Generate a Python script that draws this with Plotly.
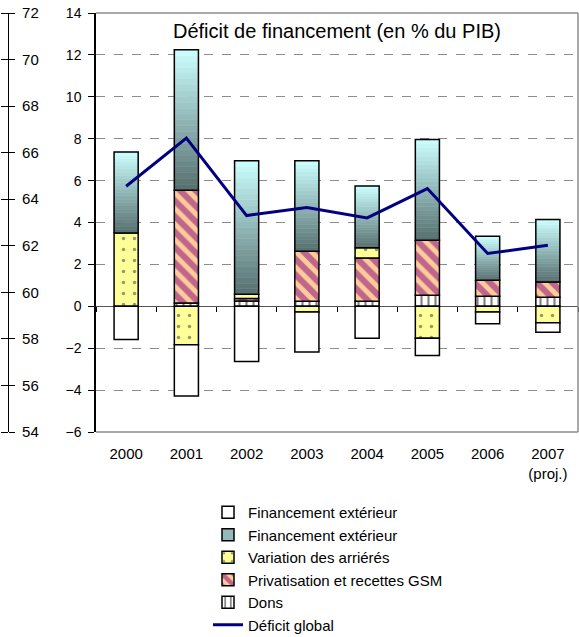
import plotly.graph_objects as go

# ---------------- data ----------------
years = ["2000", "2001", "2002", "2003", "2004", "2005", "2006", "2007"]
year_labels = ["2000", "2001", "2002", "2003", "2004", "2005", "2006", "2007<br>(proj.)"]

dons = [None, 0.16, 0.25, 0.24, 0.24, 0.53, 0.48, 0.43]
privatisation = [None, 5.38, 0.12, 2.39, 2.07, 2.62, 0.76, 0.73]
arrieres = [3.50, -1.83, 0.20, -0.27, 0.48, -1.53, -0.27, -0.79]
fin_ext_pos = [3.87, 6.71, 6.38, 4.32, 2.95, 4.81, 2.10, 2.98]
fin_ext_neg = [-1.58, -2.45, -2.64, -1.91, -1.53, -0.82, -0.56, -0.45]
deficit_global = [5.73, 8.03, 4.33, 4.72, 4.22, 5.62, 2.52, 2.91]

left_axis_range = [54, 72]

FONT = "Liberation Sans, Arial, sans-serif"
EDGE = dict(color="black", width=1.5)

fig = go.Figure()

# Dons (vertical lines)
fig.add_trace(go.Bar(
    x=years, y=dons, name="Dons", legendrank=5,
    marker=dict(color="white", line=EDGE,
                pattern=dict(shape="|", fgcolor="black", bgcolor="white",
                             size=7, solidity=0.3)),
))
# Privatisation (diagonal stripes)
fig.add_trace(go.Bar(
    x=years, y=privatisation, name="Privatisation et recettes GSM", legendrank=4,
    marker=dict(color="#ffcc99", line=EDGE,
                pattern=dict(shape="\\", fgcolor="#800080", bgcolor="#ffcc99",
                             size=11, solidity=0.55)),
))
# Variation des arriérés (dots)
fig.add_trace(go.Bar(
    x=years, y=arrieres, name="Variation des arriérés", legendrank=3,
    marker=dict(color="#ffff99", line=EDGE,
                pattern=dict(shape=".", fgcolor="#333333", bgcolor="#ffff99",
                             size=11, solidity=0.08)),
))

# Financement extérieur (positive) – gradient drawn as thin stacked slices
N = 24
c0 = (0x56, 0x6e, 0x6e)   # bottom
c1 = (0xcc, 0xff, 0xff)   # top
for i in range(N):
    t = (i + 0.5) / N
    col = "rgb(%d,%d,%d)" % tuple(round(a + (b - a) * t) for a, b in zip(c0, c1))
    fig.add_trace(go.Bar(
        x=years, y=[v / N for v in fin_ext_pos], showlegend=False, hoverinfo="skip",
        marker=dict(color=col, line=dict(color=col, width=0.6)),
    ))

# Financement extérieur (negative, white)
fig.add_trace(go.Bar(
    x=years, y=fin_ext_neg, name="Financement extérieur", legendrank=1,
    marker=dict(color="white", line=EDGE),
))

# outline of the gradient segment, on an overlay axis (no stacking)
pos_base = [(d or 0) + (p or 0) + max(a, 0) for d, p, a in zip(dons, privatisation, arrieres)]
fig.add_trace(go.Bar(
    x=years, y=fin_ext_pos, base=pos_base, xaxis="x2", showlegend=False,
    hoverinfo="skip", marker=dict(color="rgba(0,0,0,0)", line=EDGE),
))
# legend entry for gradient segment
fig.add_trace(go.Bar(
    x=years, y=[None] * len(years), xaxis="x2", name="Financement extérieur",
    legendrank=2, marker=dict(color="#93baba", line=EDGE),
))
# Déficit global line
fig.add_trace(go.Scatter(
    x=years, y=deficit_global, xaxis="x2", mode="lines", name="Déficit global",
    legendrank=6, line=dict(color="#000080", width=3),
))
# dummy traces for cropped left axis
fig.add_trace(go.Scatter(x=[], y=[], yaxis="y3", showlegend=False))
fig.add_trace(go.Scatter(x=[], y=[], yaxis="y4", showlegend=False))

W, H = 579, 637
ML, MR, MT, MB = 0, 1, 13, 637 - 432
pw = W - ML - MR
ph = H - MT - MB
x0 = 96 / pw

fig.update_layout(
    width=W, height=H,
    margin=dict(l=ML, r=MR, t=MT, b=MB, autoexpand=False),
    paper_bgcolor="white", plot_bgcolor="white",
    barmode="relative", bargap=0.6,
    font=dict(family=FONT, size=14, color="black"),
    showlegend=True,
    legend=dict(x=(249 - 41) / pw, xanchor="left",
                y=-(496 - 432) / ph, yanchor="top",
                traceorder="normal", font=dict(size=15, family=FONT),
                tracegroupgap=0, itemwidth=30, bgcolor="rgba(0,0,0,0)"),
    xaxis=dict(domain=[x0, 1], range=[-0.5, 7.5], type="category",
               tickmode="array", tickvals=years, ticktext=year_labels,
               ticks="", showline=False, showgrid=False, zeroline=False,
               tickfont=dict(size=15), ticklabelstandoff=11, automargin=False,
               ticklabeloverflow="allow"),
    xaxis2=dict(overlaying="x", anchor="free", position=0.3, range=[-0.5, 7.5],
                type="category", domain=[x0, 1],
                showticklabels=False, ticks="outside", tickson="boundaries",
                ticklen=5, tickcolor="black", tickwidth=1,
                showline=False, showgrid=False, zeroline=False, automargin=False),
    yaxis=dict(range=[-6, 14], dtick=2, ticks="outside", ticklen=6,
               tickcolor="black", showline=True, linecolor="black", linewidth=1.5,
               showgrid=True, gridcolor="#8c8c8c", griddash="dash", gridwidth=1,
               zeroline=True, zerolinecolor="#555555", zerolinewidth=1,
               tickfont=dict(size=14), ticklabelstandoff=4, automargin=False,
               ticklabeloverflow="allow"),
    yaxis3=dict(overlaying="y", anchor="free", position=8 / pw, side="right",
                range=left_axis_range, dtick=2, ticks="outside", ticklen=6,
                tickcolor="black", showline=True, linecolor="black", linewidth=1.2,
                showgrid=False, zeroline=False, tickfont=dict(size=15),
                ticklabelstandoff=4, automargin=False, ticklabeloverflow="allow"),
    yaxis4=dict(overlaying="y", anchor="free", position=8 / pw, side="left",
                range=left_axis_range, dtick=2, ticks="outside", ticklen=7,
                tickcolor="black", showline=False, showticklabels=False,
                showgrid=False, zeroline=False, automargin=False),
)

# plot frame (grey) on top, right, bottom
grey = dict(color="#8c8c8c", width=1.5)
fig.add_shape(type="line", xref="x domain", yref="y domain", x0=0, x1=1, y0=1, y1=1, line=grey)
fig.add_shape(type="line", xref="x domain", yref="y domain", x0=1, x1=1, y0=0, y1=1, line=grey)
fig.add_shape(type="line", xref="x domain", yref="y domain", x0=0, x1=1, y0=0, y1=0, line=grey)

fig.add_annotation(text="Déficit de financement (en % du PIB)", xref="x domain", yref="y domain",
                   x=0.5, y=1, yanchor="top", yshift=-5, showarrow=False,
                   font=dict(size=20, family=FONT))

# remove the browser's default 8px page margin so the figure sits at the window corner
fig.write_html("out.html", config={"displayModeBar": False},
               post_script="document.body.style.margin='0';")
